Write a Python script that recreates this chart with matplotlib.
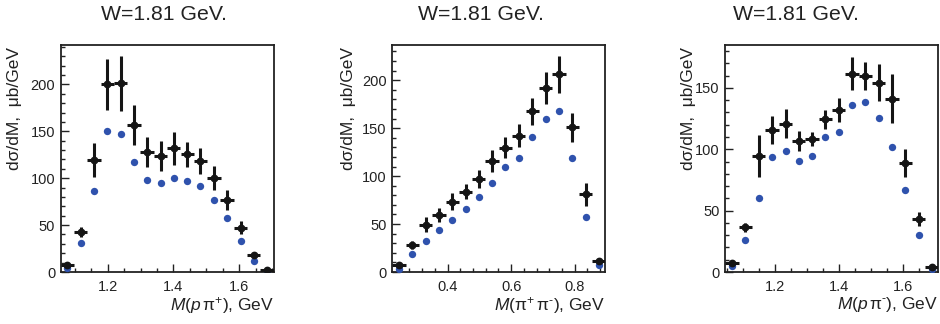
import matplotlib
matplotlib.use('Agg')
import matplotlib.pyplot as plt
from matplotlib.ticker import MultipleLocator

plt.rcParams['font.family'] = ['Liberation Sans', 'DejaVu Sans']
plt.rcParams['mathtext.fontset'] = 'custom'
plt.rcParams['mathtext.rm'] = 'Liberation Sans'
plt.rcParams['mathtext.it'] = 'Liberation Sans:italic'
plt.rcParams['mathtext.bf'] = 'Liberation Sans:bold'

title = "W=1.81 GeV."
ylabel = "dσ/dM,  μb/GeV"

# Panel 1: M(p pi+)
x1 = [1.077, 1.118, 1.158, 1.199, 1.239, 1.280, 1.320, 1.361,
      1.401, 1.442, 1.482, 1.523, 1.563, 1.604, 1.644, 1.685]
data1 = [7.4, 42.5, 119.5, 200.0, 201.0, 156.7, 128.0, 123.8,
         132.0, 125.5, 118.0, 100.0, 77.0, 47.0, 18.0, 2.0]
err1 = [2.0, 5.0, 17.7, 27.0, 29.6, 21.0, 16.0, 15.6,
        17.7, 13.6, 13.8, 12.8, 10.6, 7.0, 3.0, 1.0]
model1 = [4.6, 30.5, 86.0, 150.7, 146.8, 117.0, 98.6, 95.4,
          100.0, 97.0, 92.0, 77.0, 57.4, 33.3, 12.0, 0.7]

# Panel 2: M(pi+ pi-)
x2 = [0.247, 0.289, 0.331, 0.373, 0.415, 0.457, 0.498, 0.540,
      0.582, 0.624, 0.666, 0.708, 0.750, 0.792, 0.834, 0.875]
data2 = [6.9, 28.4, 49.2, 59.6, 73.5, 83.9, 97.0, 116.0,
         129.6, 142.0, 167.8, 192.0, 206.0, 150.8, 81.0, 11.0]
err2 = [2.0, 4.3, 8.0, 7.5, 8.7, 8.3, 9.5, 11.3,
        11.0, 12.0, 14.0, 16.5, 19.0, 15.4, 12.3, 2.0]
model2 = [3.5, 18.7, 32.6, 44.0, 54.4, 65.9, 78.3, 92.9,
          109.2, 118.5, 141.0, 160.0, 168.0, 119.2, 57.2, 6.9]

# Panel 3: M(p pi-)
x3 = [1.067, 1.109, 1.150, 1.192, 1.234, 1.275, 1.317, 1.358,
      1.400, 1.442, 1.483, 1.525, 1.566, 1.608, 1.650, 1.691]
data3 = [7.3, 36.3, 94.5, 115.6, 121.0, 106.7, 108.3, 124.6,
         131.9, 161.7, 159.8, 154.3, 141.3, 89.1, 43.3, 4.1]
err3 = [1.5, 4.0, 17.3, 11.4, 12.0, 8.4, 6.0, 7.7,
        9.9, 13.5, 11.5, 15.2, 20.0, 11.4, 5.8, 1.0]
model3 = [4.6, 25.7, 60.7, 94.0, 98.8, 90.4, 94.5, 109.7,
          114.3, 135.9, 138.6, 125.9, 102.1, 66.9, 30.1, 2.4]

xlabels = [r"$\mathit{M(p}\,\mathrm{\pi^{+}}\mathit{)}$, GeV",
           r"$\mathit{M(}\mathrm{\pi^{+}\,\pi^{\text{-}}}\mathit{)}$, GeV",
           r"$\mathit{M(p}\,\mathrm{\pi^{\text{-}}}\mathit{)}$, GeV"]

panels = [
    dict(x=x1, d=data1, e=err1, m=model1, xlim=(1.057, 1.705), ylim=(0, 242),
         xmaj=0.2, xmin=0.05, left=60.7, title_cx=164, ylab_x=15),
    dict(x=x2, d=data2, e=err2, m=model2, xlim=(0.226, 0.896), ylim=(0, 236.7),
         xmaj=0.2, xmin=0.04, left=392.3, title_cx=481, ylab_x=348),
    dict(x=x3, d=data3, e=err3, m=model3, xlim=(1.046, 1.711), ylim=(0, 185),
         xmaj=0.2, xmin=0.05, left=725.3, title_cx=796, ylab_x=688),
]

W, H = 940, 324
fig = plt.figure(figsize=(W / 100, H / 100), dpi=100)
txt = '#222222'
blue = '#2f52ad'

top_px, bot_px, width_px = 45, 272, 213
for i, p in enumerate(panels):
    ax = fig.add_axes([p['left'] / W, (H - bot_px) / H, width_px / W, (bot_px - top_px) / H])
    bw = (p['xlim'][1] - p['xlim'][0]) / 16.0
    ax.scatter(p['x'], p['m'], s=28, color=blue, zorder=3, linewidths=0)
    ax.errorbar(p['x'], p['d'], yerr=p['e'], xerr=bw / 2, fmt='o', color='#151515',
                markersize=4.6, elinewidth=2.2, capsize=0, zorder=4)
    ax.set_xlim(*p['xlim'])
    ax.set_ylim(*p['ylim'])
    ax.xaxis.set_major_locator(MultipleLocator(p['xmaj']))
    ax.xaxis.set_minor_locator(MultipleLocator(p['xmin']))
    ax.yaxis.set_major_locator(MultipleLocator(50))
    ax.yaxis.set_minor_locator(MultipleLocator(10))
    ax.tick_params(which='both', direction='in', top=False, right=False,
                   labelsize=10.5, colors='#222222', width=1.0)
    ax.tick_params(which='major', length=5.5, pad=4)
    ax.tick_params(which='minor', length=3)
    ax.tick_params(axis='x', pad=6)
    for s in ax.spines.values():
        s.set_linewidth(1.3)
        s.set_color('#222222')
    ax.xaxis.set_major_formatter(matplotlib.ticker.FormatStrFormatter('%g'))
    fig.text(p['title_cx'] / W, 1 - 14 / H, title, ha='center', va='center',
             fontsize=15.3, color=txt)
    fig.text(p['ylab_x'] / W, 1 - 47 / H, ylabel, rotation=90, ha='center', va='top',
             fontsize=12.5, color=txt)
    fig.text((p['left'] + width_px) / W, 1 - 305 / H, xlabels[i], ha='right', va='center',
             fontsize=12.5, color=txt)

fig.savefig('out.png', dpi=100)
